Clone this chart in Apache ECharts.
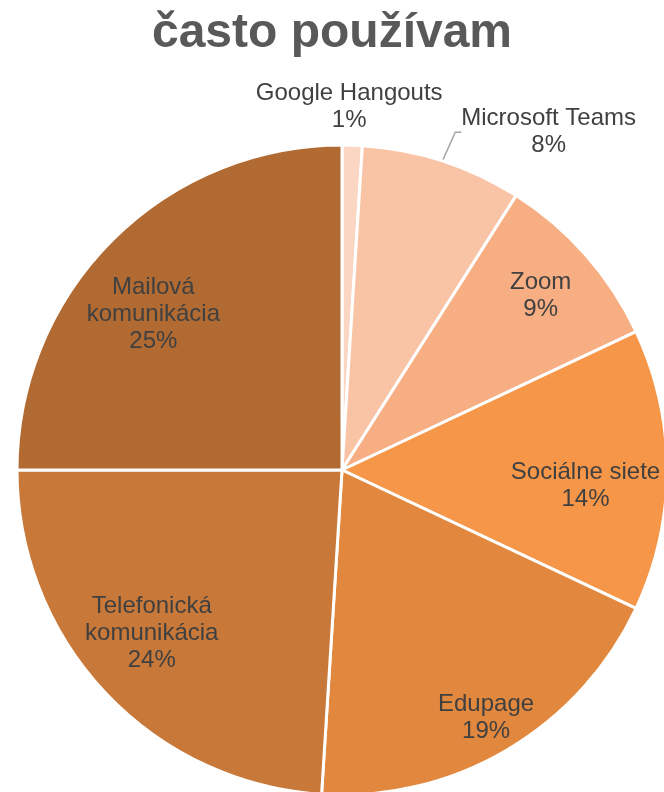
<!DOCTYPE html>
<html>
<head>
<meta charset="utf-8">
<script src="https://cdn.jsdelivr.net/npm/echarts@6/dist/echarts.min.js"></script>
<style>
  html, body { margin: 0; padding: 0; background: #fff; }
  #chart { width: 664px; height: 792px; }
</style>
</head>
<body>
<div id="chart"></div>
<script>
const categories = ["Google Hangouts", "Microsoft Teams", "Zoom", "Sociálne siete", "Edupage", "Telefonická komunikácia", "Mailová komunikácia"];
const labelNames = ["Google Hangouts", "Microsoft Teams", "Zoom", "Sociálne siete", "Edupage", "Telefonická\nkomunikácia", "Mailová\nkomunikácia"];
const values = [1, 8, 9, 14, 19, 24, 25];
const colors = ["#fbd6c3", "#f9c3a6", "#f7ae83", "#f69648", "#e1883e", "#c87838", "#b06a32"];
const outsideIdx = [0, 1];

const center = [342, 470];
const radius = 325;
const labelFont = { fontFamily: "Liberation Sans, Arial, sans-serif", fontSize: 24, lineHeight: 27, color: "#404040", overflow: "none" };
// nudges for the inside labels (Excel does not place them on the mid radius)
const insideNudge = { 2: [7, -5], 3: [-12, 16], 4: [14, 28], 5: [-4, -12], 6: [-8, 25] };

const mainData = categories.map((name, i) => ({
  name: name,
  value: values[i],
  itemStyle: { color: colors[i] },
  label: { show: outsideIdx.includes(i) },
  labelLine: { show: i === 1 }
}));

const ghostData = categories.map((name, i) => ({
  name: name,
  value: values[i],
  label: { show: !outsideIdx.includes(i) }
}));

const chart = echarts.init(document.getElementById("chart"));
chart.setOption({
  animation: false,
  backgroundColor: "#fff",
  title: {
    text: "často používam",
    left: "center",
    top: 5,
    textStyle: { fontFamily: "Liberation Sans, Arial, sans-serif", fontSize: 48, fontWeight: "bold", color: "#595959" }
  },
  series: [
    {
      type: "pie",
      center: center,
      radius: radius,
      startAngle: 90,
      clockwise: true,
      silent: true,
      avoidLabelOverlap: false,
      itemStyle: { borderColor: "#fff", borderWidth: 3 },
      label: Object.assign({
        position: "outside",
        formatter: p => labelNames[p.dataIndex] + "\n" + p.value + "%"
      }, labelFont),
      labelLine: { length: 32, length2: 6, lineStyle: { color: "#a6a6a6", width: 1.5 } },
      labelLayout: function (p) {
        const r = p.rect;
        if (p.dataIndex === 0) {
          return { x: r.x + r.width / 2 - 3, y: r.y - 37, align: "center", verticalAlign: "middle" };
        }
        if (p.dataIndex === 1) {
          return { x: r.x + r.width + 31, y: r.y - 12, align: "center", verticalAlign: "middle" };
        }
      },
      data: mainData
    },
    {
      type: "pie",
      center: center,
      radius: [180, radius],
      startAngle: 90,
      clockwise: true,
      silent: true,
      itemStyle: { color: "rgba(0,0,0,0)", borderWidth: 0 },
      label: Object.assign({
        position: "inside",
        formatter: p => labelNames[p.dataIndex] + "\n" + p.value + "%"
      }, labelFont),
      labelLine: { show: false },
      labelLayout: function (p) {
        const n = insideNudge[p.dataIndex];
        if (!n) return {};
        return { dx: n[0], dy: n[1] };
      },
      data: ghostData
    }
  ]
});
</script>
</body>
</html>
